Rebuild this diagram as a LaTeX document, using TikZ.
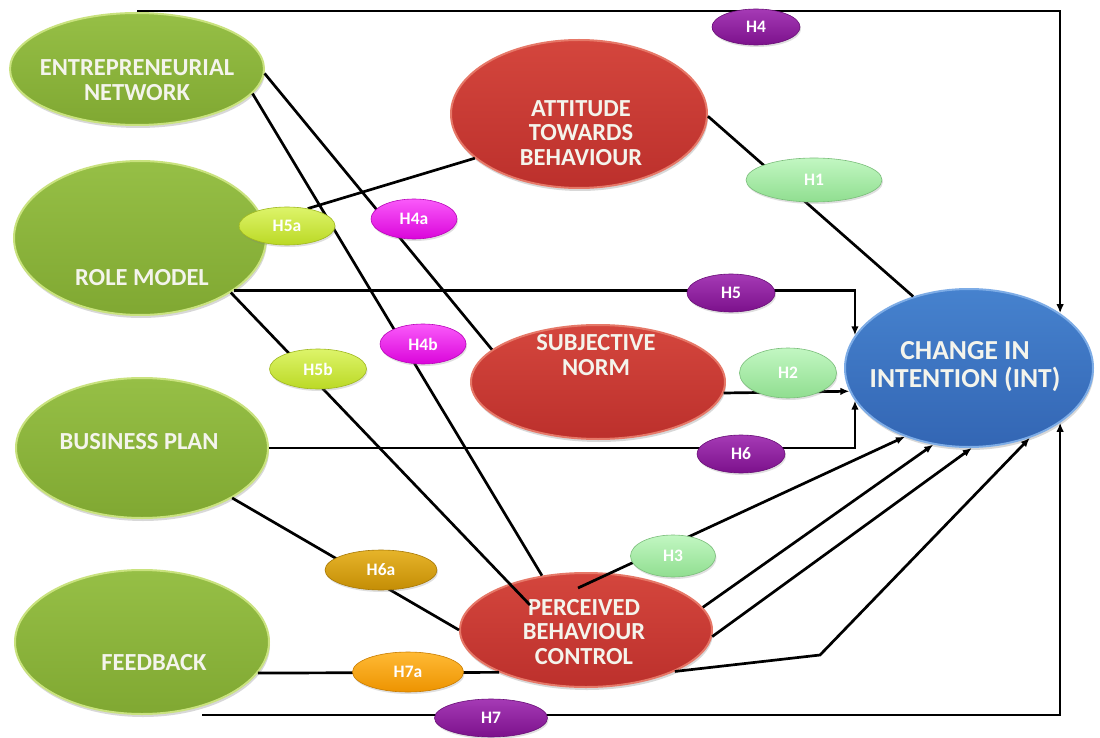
\documentclass[tikz,border=0pt]{standalone}
\usepackage{fontspec}
\setmainfont{Carlito}
\usetikzlibrary{shapes.geometric,arrows.meta,shadows}
\pgfdeclarelayer{back}
\pgfdeclarelayer{front}
\pgfsetlayers{back,main,front}

% construct colours
\definecolor{gtop}{HTML}{96BF46}
\definecolor{gbot}{HTML}{80A832}
\definecolor{grim}{HTML}{C9E27E}
\definecolor{rtop}{HTML}{D4463D}
\definecolor{rbot}{HTML}{BC302C}
\definecolor{rrim}{HTML}{E67868}
\definecolor{btop}{HTML}{4682CE}
\definecolor{bbot}{HTML}{3366B4}
\definecolor{brim}{HTML}{7DACE6}
\definecolor{txt}{HTML}{F4F4EC}
% hypothesis colours
\definecolor{ptop}{HTML}{A53AB5}
\definecolor{pbot}{HTML}{7C118C}
\definecolor{mtop}{HTML}{FA5AFA}
\definecolor{mbot}{HTML}{DA05DA}
\definecolor{ytop}{HTML}{DDF46A}
\definecolor{ybot}{HTML}{BBD925}
\definecolor{ltop}{HTML}{C2F7C2}
\definecolor{lbot}{HTML}{90DE90}
\definecolor{otop}{HTML}{E6B42A}
\definecolor{obot}{HTML}{C48D05}
\definecolor{atop}{HTML}{FFBA35}
\definecolor{abot}{HTML}{ED9300}

\begin{document}
\begin{tikzpicture}[x=1pt,y=-1pt,
  conn/.style={line width=2.7pt, black},
  arr/.style={conn, -{Latex[length=9pt,width=7.5pt]}},
  bigell/.style={ellipse, inner sep=0pt, line width=2pt,
    drop shadow={shadow xshift=1pt, shadow yshift=-3pt, opacity=0.3}},
  greenell/.style={bigell, top color=gtop, bottom color=gbot, draw=grim},
  redell/.style={bigell, top color=rtop, bottom color=rbot, draw=rrim},
  blueell/.style={bigell, top color=btop, bottom color=bbot, draw=brim},
  bigtxt/.style={text=txt, align=center, inner sep=0pt,
    font=\bfseries\fontsize{24.5}{24.5}\selectfont},
  hyp/.style 2 args={ellipse, inner sep=0pt, top color=#1, bottom color=#2,
    draw=#2!85!black, line width=0.6pt, text=white,
    font=\bfseries\fontsize{17.5}{17.5}\selectfont,
    drop shadow={shadow xshift=1pt, shadow yshift=-2pt, opacity=0.25}},
  purplehyp/.style={hyp={ptop}{pbot}},
  magentahyp/.style={hyp={mtop}{mbot}},
  yellowhyp/.style={hyp={ytop}{ybot}},
  lighthyp/.style={hyp={ltop}{lbot}},
  goldhyp/.style={hyp={otop}{obot}},
  orangehyp/.style={hyp={atop}{abot}}
]
\useasboundingbox (0,0) rectangle (1100,738);

% constructs
\begin{pgfonlayer}{back}
  \fill[white] (0,0) rectangle (1100,738);
  \node[greenell, minimum width=254pt, minimum height=112pt] (EN) at (137,69) {};
  \node[greenell, minimum width=252pt, minimum height=154pt] (RM) at (140,238) {};
  \node[greenell, minimum width=252pt, minimum height=140pt] (BP) at (142,448) {};
  \node[greenell, minimum width=254pt, minimum height=144pt] (FB) at (142,642) {};
  \node[redell, minimum width=256pt, minimum height=148pt] (ATB) at (579,114) {};
  \node[redell, minimum width=254pt, minimum height=114pt] (SN) at (598,382) {};
  \node[redell, minimum width=252pt, minimum height=114pt] (PBC) at (586,630) {};
  \node[blueell, minimum width=248pt, minimum height=158pt] (INT) at (969,368) {};

  \node[bigtxt] (ENt) at (137,80) {ENTREPRENEURIAL\\NETWORK};
  \node[bigtxt] (RMt) at (142,278) {ROLE MODEL};
  \node[bigtxt] (BPt) at (139,442) {BUSINESS PLAN};
  \node[bigtxt] (FBt) at (154,663) {FEEDBACK};
  \node[bigtxt] (ATBt) at (581,133) {ATTITUDE\\TOWARDS\\BEHAVIOUR};
  \node[bigtxt] (SNt) at (596,355) {SUBJECTIVE\\NORM};
  \node[bigtxt] (PBCt) at (584,632) {PERCEIVED\\BEHAVIOUR\\CONTROL};
  \node[bigtxt, font=\bfseries\fontsize{27.5}{28}\selectfont] (INTt) at (965,367)
    {CHANGE IN\\INTENTION (INT)};
\end{pgfonlayer}

% hypothesis labels
\begin{pgfonlayer}{front}
  \node[purplehyp, minimum width=88pt, minimum height=36pt] (H4) at (756,27) {H4};
  \node[lighthyp, minimum width=136pt, minimum height=44pt] (H1) at (814,180) {H1};
  \node[yellowhyp, minimum width=96pt, minimum height=38pt] (H5a) at (287,226) {H5a};
  \node[magentahyp, minimum width=86pt, minimum height=40pt] (H4a) at (414,219) {H4a};
  \node[purplehyp, minimum width=88pt, minimum height=38pt] (H5) at (731,293) {H5};
  \node[magentahyp, minimum width=86pt, minimum height=40pt] (H4b) at (423,344) {H4b};
  \node[yellowhyp, minimum width=97pt, minimum height=40pt] (H5b) at (318,369) {H5b};
  \node[lighthyp, minimum width=97pt, minimum height=50pt] (H2) at (788,373) {H2};
  \node[purplehyp, minimum width=88pt, minimum height=38pt] (H6) at (741,454) {H6};
  \node[lighthyp, minimum width=85pt, minimum height=42pt] (H3) at (673,556) {H3};
  \node[goldhyp, minimum width=112pt, minimum height=40pt] (H6a) at (381,570) {H6a};
  \node[orangehyp, minimum width=111pt, minimum height=40pt] (H7a) at (408,672) {H7a};
  \node[purplehyp, minimum width=113pt, minimum height=38pt] (H7) at (491,718) {H7};
\end{pgfonlayer}

% paths between constructs
\coordinate (bend) at (820,655);
\draw[arr] ([yshift=1pt]EN.north) -| (INT.31.5);
\draw[arr] ([xshift=60pt]FB.south) -| (INT.-31.5);
\draw[conn] (ATB.-1) -- (INT.128);
\draw[arr] (RM.-29) -| (INT.164);
\draw[arr] (SN.-5) -- (INT.191);
\draw[arr] (BP.east) -| (INT.196);
\draw[arr] ([shift={(-8,-42)}]PBC.center) -- (INT.227);
\draw[arr] (PBC.11) -- (INT.245);
\draw[arr] (PBC.-3) -- (INT.272);
\draw[arr] (PBC.-25) -- (bend) -- (INT.-49);
\draw[conn] (BP.-29) -- (PBC.180);
\draw[conn] (FB.-15) -- (PBC.206);
\draw[conn] (EN.-2) -- (SN.163.5);
\draw[conn] (EN.-12) -- (PBC.129);
\draw[conn] (ATB.203) -- (H5a.40);
\draw[conn] (RM.-31.4) -- ([shift={(-56,-25)}]PBC.center);
\end{tikzpicture}
\end{document}
